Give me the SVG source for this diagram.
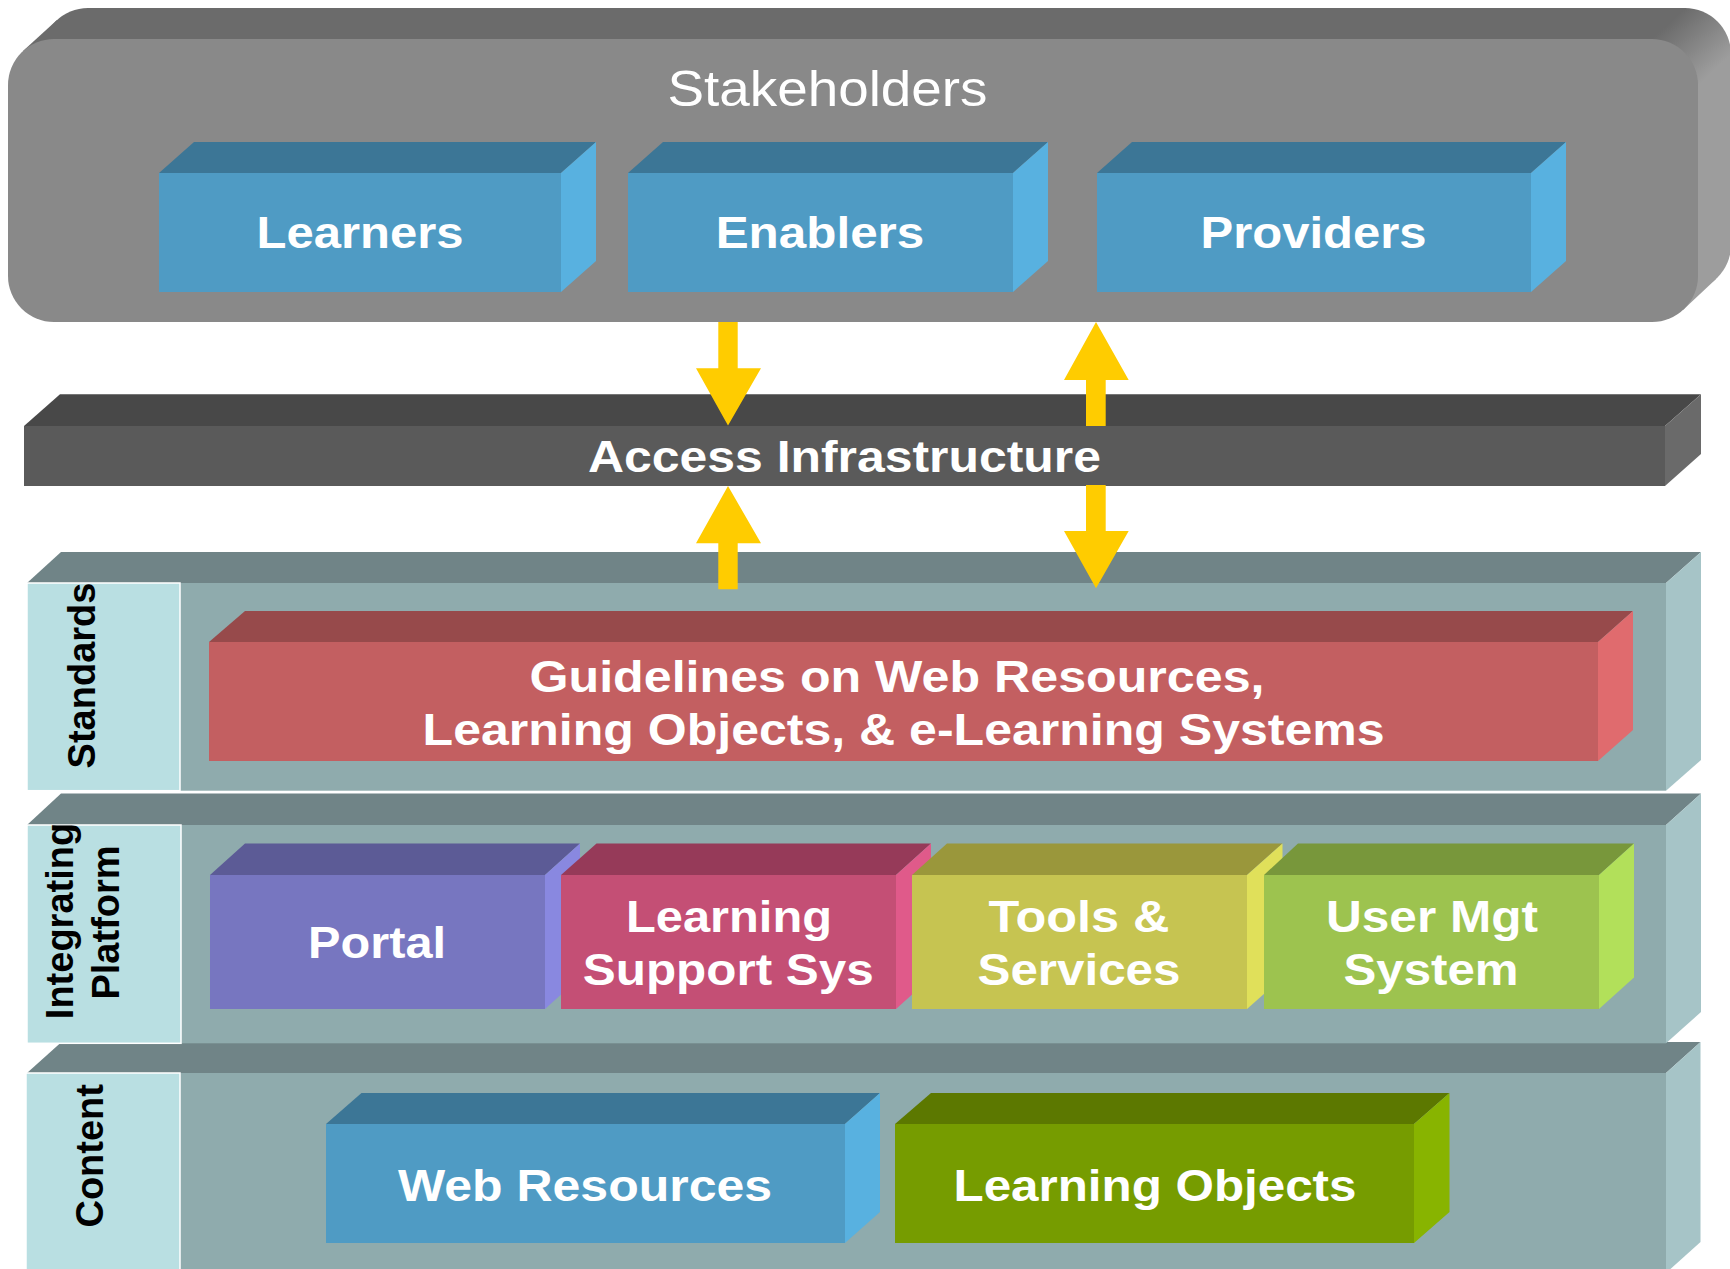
<svg xmlns="http://www.w3.org/2000/svg" width="1730" height="1269" viewBox="0 0 1730 1269">
<defs>
<linearGradient id="shSide" gradientUnits="userSpaceOnUse" x1="1652" y1="39" x2="1696" y2="87">
<stop offset="0" stop-color="#6b6b6b"/>
<stop offset="1" stop-color="#9d9d9d"/>
</linearGradient>
</defs>
<style>
.t{font-family:"Liberation Sans",Arial,sans-serif;font-weight:bold;fill:#fff;font-size:44px;text-anchor:middle}
.v{font-family:"Liberation Sans",Arial,sans-serif;font-weight:bold;fill:#000;font-size:38px;text-anchor:middle}
.sh{font-family:"Liberation Sans",Arial,sans-serif;fill:#fff;font-size:50px;text-anchor:middle}
.bf{fill:#4f9bc4}.bt{fill:#3c7696}.bs{fill:#58b1e0}
.lf{fill:#8fabad}.lt{fill:#708487}.ls{fill:#a6c4c7}
.lab{fill:#b9dfe2;stroke:#fff;stroke-width:1.5}
.rf{fill:#c35f61}.rt{fill:#974a4b}.rs{fill:#e06b6e}
.pf{fill:#7776c0}.pt{fill:#5c5b96}.ps{fill:#8988e0}
.mf{fill:#c44f75}.mt{fill:#963a59}.ms{fill:#e05a8a}
.yf{fill:#c6c451}.yt{fill:#9a973b}.ys{fill:#e0e05a}
.gf{fill:#9dc34f}.gt{fill:#78973b}.gs{fill:#b2e05a}
.of{fill:#769c00}.ot{fill:#5c7800}.os{fill:#88b400}
.arrow{fill:#ffcc00}
</style>
<rect width="1730" height="1269" fill="#fff"/>

<g id="stakeholders">
<rect x="42" y="8" width="1689" height="283" rx="46" fill="url(#shSide)"/>
<polygon points="23,51 57,20 1716,279 1683,310" fill="url(#shSide)"/>
<rect x="8" y="39" width="1690" height="283" rx="46" fill="#898989"/>
<text class="sh" x="827.5" y="106" textLength="320" lengthAdjust="spacingAndGlyphs">Stakeholders</text>
</g>

<g id="learners">
<polygon class="bt" points="159,173 194,142 596,142 561,173"/>
<polygon class="bs" points="561,173 596,142 596,261 561,292"/>
<rect class="bf" x="159" y="173" width="402" height="119"/>
<text class="t" x="360" y="248.3" textLength="207" lengthAdjust="spacingAndGlyphs">Learners</text>
</g>
<g id="enablers">
<polygon class="bt" points="628,173 663,142 1048,142 1013,173"/>
<polygon class="bs" points="1013,173 1048,142 1048,261 1013,292"/>
<rect class="bf" x="628" y="173" width="385" height="119"/>
<text class="t" x="820" y="248.3" textLength="208.6" lengthAdjust="spacingAndGlyphs">Enablers</text>
</g>
<g id="providers">
<polygon class="bt" points="1097,173 1132,142 1566,142 1531,173"/>
<polygon class="bs" points="1531,173 1566,142 1566,261 1531,292"/>
<rect class="bf" x="1097" y="173" width="434" height="119"/>
<text class="t" x="1313.5" y="248.3" textLength="226" lengthAdjust="spacingAndGlyphs">Providers</text>
</g>

<g id="access">
<polygon fill="#484848" points="24,426 60,394.3 1701,394.3 1665,426"/>
<polygon fill="#6a6a6a" points="1665,426 1701,394.3 1701,454 1665,486"/>
<rect fill="#5a5a5a" x="24" y="426" width="1641" height="60"/>
<text class="t" style="font-size:45px" x="844.5" y="472.3" textLength="513" lengthAdjust="spacingAndGlyphs">Access Infrastructure</text>
</g>

<g id="content-layer">
<polygon class="lt" points="27,1073 61.5,1042 1700.5,1042 1666,1073"/>
<polygon class="ls" points="1666,1073 1700.5,1042 1700.5,1242 1666,1273"/>
<rect class="lf" x="27" y="1073" width="1639" height="200"/>
<rect class="lab" x="26" y="1073" width="154" height="200"/>
<text class="v" transform="translate(103.3,1155.8) rotate(-90)">Content</text>
</g>
<g id="web-resources">
<polygon class="bt" points="326,1124 361.5,1093 880,1093 845,1124"/>
<polygon class="bs" points="845,1124 880,1093 880,1212 845,1243"/>
<rect class="bf" x="326" y="1124" width="519" height="119"/>
<text class="t" x="585" y="1200.7" textLength="374" lengthAdjust="spacingAndGlyphs">Web Resources</text>
</g>
<g id="learning-objects">
<polygon class="ot" points="895,1124 931,1093 1449.5,1093 1414,1124"/>
<polygon class="os" points="1414,1124 1449.5,1093 1449.5,1212 1414,1243"/>
<rect class="of" x="895" y="1124" width="519" height="119"/>
<text class="t" x="1155" y="1200.7" textLength="403" lengthAdjust="spacingAndGlyphs">Learning Objects</text>
</g>

<g id="integrating-layer">
<polygon class="lt" points="27,825 61,793.5 1701,793.5 1666,825"/>
<polygon class="ls" points="1666,825 1701,793.5 1701,1012 1666,1043.3"/>
<rect class="lf" x="27" y="825" width="1639" height="218.3"/>
<rect class="lab" x="27" y="825" width="154" height="218.3"/>
<text class="v" transform="translate(72.5,921) rotate(-90)">Integrating</text>
<text class="v" transform="translate(119.3,922.5) rotate(-90)">Platform</text>
</g>
<g id="portal">
<polygon class="pt" points="210,875 245,843.5 580,843.5 545,875"/>
<polygon class="ps" points="545,875 580,843.5 580,977.5 545,1009"/>
<rect class="pf" x="210" y="875" width="335" height="134"/>
<text class="t" x="377" y="958.3" textLength="138" lengthAdjust="spacingAndGlyphs">Portal</text>
</g>
<g id="learning-support">
<polygon class="mt" points="561,875 596.5,843.5 931,843.5 896,875"/>
<polygon class="ms" points="896,875 931,843.5 931,977.5 896,1009"/>
<rect class="mf" x="561" y="875" width="335" height="134"/>
<text class="t" x="729" y="931.7" textLength="206" lengthAdjust="spacingAndGlyphs">Learning</text>
<text class="t" x="728.3" y="985" textLength="291" lengthAdjust="spacingAndGlyphs">Support Sys</text>
</g>
<g id="tools">
<polygon class="yt" points="912,875 947,843.5 1282.5,843.5 1247,875"/>
<polygon class="ys" points="1247,875 1282.5,843.5 1282.5,977.5 1247,1009"/>
<rect class="yf" x="912" y="875" width="335" height="134"/>
<text class="t" x="1079" y="931.7" textLength="181" lengthAdjust="spacingAndGlyphs">Tools &amp;</text>
<text class="t" x="1079" y="985" textLength="203" lengthAdjust="spacingAndGlyphs">Services</text>
</g>
<g id="user-mgt">
<polygon class="gt" points="1264,875 1298,843.5 1634,843.5 1599,875"/>
<polygon class="gs" points="1599,875 1634,843.5 1634,977.5 1599,1009"/>
<rect class="gf" x="1264" y="875" width="335" height="134"/>
<text class="t" x="1432" y="931.7" textLength="212" lengthAdjust="spacingAndGlyphs">User Mgt</text>
<text class="t" x="1431" y="985" textLength="175" lengthAdjust="spacingAndGlyphs">System</text>
</g>

<g id="standards-layer">
<polygon class="lt" points="27,583 61,552 1701,552 1666,583"/>
<polygon class="ls" points="1666,583 1701,552 1701,760 1666,790.7"/>
<rect class="lf" x="27" y="583" width="1639" height="207.7"/>
<rect class="lab" x="27" y="583" width="153" height="207.7"/>
<text class="v" transform="translate(95,675.5) rotate(-90)">Standards</text>
</g>
<g id="guidelines">
<polygon class="rt" points="209,642 245,611 1633,611 1598,642"/>
<polygon class="rs" points="1598,642 1633,611 1633,730 1598,761"/>
<rect class="rf" x="209" y="642" width="1389" height="119"/>
<text class="t" x="897" y="691.7" textLength="735" lengthAdjust="spacingAndGlyphs">Guidelines on Web Resources,</text>
<text class="t" x="903.6" y="745" textLength="962" lengthAdjust="spacingAndGlyphs">Learning Objects, &amp; e-Learning Systems</text>
</g>

<g id="connectors">
<polygon class="arrow" points="718.3,322 737.7,322 737.7,368.3 761,368.3 728,425.5 696,368.3 718.3,368.3"/>
<polygon class="arrow" points="728,486 761,543.3 737.7,543.3 737.7,589.3 718.3,589.3 718.3,543.3 696,543.3"/>
<polygon class="arrow" points="1096,322 1128.7,380 1105.7,380 1105.7,426 1086,426 1086,380 1064,380"/>
<polygon class="arrow" points="1086,485 1105.7,485 1105.7,531 1128.7,531 1096,588.3 1064,531 1086,531"/>
</g>
</svg>
